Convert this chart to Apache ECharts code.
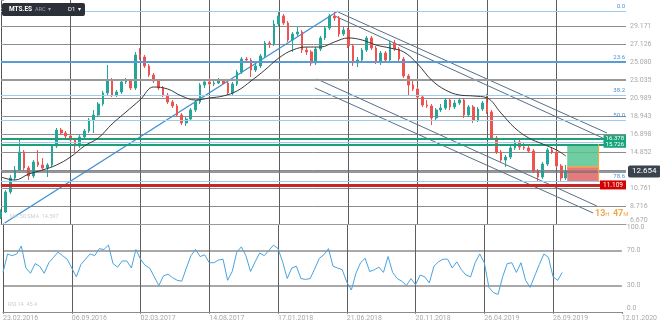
<!DOCTYPE html>
<html><head><meta charset="utf-8">
<script src="https://cdn.jsdelivr.net/npm/echarts@6/dist/echarts.min.js"></script>
<style>html,body{margin:0;padding:0;background:#fff}#c{width:660px;height:324px}</style>
</head><body><div id="c"></div>
<script>
// ---- data ----
const dateLabels = ['23.02.2016','06.09.2016','02.03.2017','14.08.2017','17.01.2018','21.06.2018','20.11.2018','26.04.2019','26.09.2019','12.01.2020'];
const priceTickLabels = ['6.670','8.716','10.761','12.807','14.852','16.898','18.943','20.989','23.035','25.080','27.126','29.171','',''];
const rsiTickLabels = {0:'0.0',30:'30.0',70:'70.0',100:'100.0'};

const openP = [7.47,8.03,10.31,11.90,12.81,14.85,13.03,12.13,13.72,13.38,
13.03,13.38,15.53,17.35,17.01,16.67,16.22,15.53,16.56,17.24,
18.49,19.06,20.31,21.56,23.03,21.33,21.67,22.81,22.92,22.13,
25.88,25.65,24.63,23.60,22.92,22.13,21.33,20.53,20.08,19.06,
18.15,18.60,19.63,20.53,22.47,22.81,22.58,22.69,23.03,22.69,
21.56,22.58,23.94,25.42,25.31,24.17,24.63,25.76,27.24,27.13,
29.40,30.31,29.51,27.58,28.26,28.49,26.44,26.22,24.97,26.56,
27.81,28.94,30.31,30.08,28.26,28.72,26.90,24.97,25.31,26.44,
27.81,26.67,25.08,26.10,25.31,27.24,26.56,25.42,23.49,22.47,
22.01,21.10,20.19,20.08,18.72,19.63,19.85,20.76,19.97,20.42,
20.76,19.06,19.97,18.49,19.74,20.42,19.40,16.44,14.85,13.94,
14.28,15.31,15.99,15.42,15.31,14.97,12.69,12.01,13.49,15.08,
14.85,13.26,11.90];
const closeP = [8.03,10.31,11.90,12.81,14.85,13.03,12.13,13.72,13.38,13.03,
13.38,15.53,17.35,17.01,16.67,16.22,15.53,16.56,17.24,18.49,
19.06,20.31,21.56,23.03,21.33,21.67,22.81,22.92,22.13,25.88,
25.65,24.63,23.60,22.92,22.13,21.33,20.53,20.08,19.06,18.15,
18.60,19.63,20.53,22.47,22.81,22.58,22.69,23.03,22.69,21.56,
22.58,23.94,25.42,25.31,24.17,24.63,25.76,27.24,27.13,29.40,
30.31,29.51,27.58,28.26,28.49,26.44,26.22,24.97,26.56,27.81,
28.94,30.31,30.08,28.26,28.72,26.90,24.97,25.31,26.44,27.81,
26.67,25.08,26.10,25.31,27.24,26.56,25.42,23.49,22.47,22.01,
21.10,20.19,20.08,18.72,19.63,19.85,20.76,19.97,20.42,20.76,
19.06,19.97,18.49,19.74,20.42,19.40,16.44,14.85,13.94,14.28,
15.31,15.99,15.42,15.31,14.97,12.69,12.01,13.49,15.08,14.85,
13.26,11.90,12.654];
const lowP = [7.24,7.92,10.08,11.67,12.69,12.81,11.67,11.90,13.15,12.81,
12.01,13.15,15.31,16.78,16.44,15.87,14.85,15.31,16.33,17.01,
17.01,18.83,20.08,21.33,21.10,21.10,21.44,22.58,21.90,21.90,
25.31,24.40,23.38,22.69,21.90,21.10,20.31,19.85,18.83,17.92,
17.81,18.38,19.40,20.31,22.13,22.35,22.35,22.58,22.47,21.22,
21.33,22.35,23.72,24.97,23.38,23.94,24.40,25.53,26.67,26.90,
29.17,29.29,27.35,26.22,28.04,26.10,25.88,24.63,24.74,26.33,
27.58,28.72,29.74,27.92,28.04,26.67,24.63,24.51,25.08,26.22,
26.44,24.85,24.74,25.08,25.08,26.33,25.19,23.26,21.33,21.79,
20.88,19.97,19.85,17.92,18.49,19.40,19.63,19.63,19.74,20.19,
18.72,18.83,18.15,18.26,19.51,19.17,16.22,14.62,13.72,13.15,
14.06,15.08,15.08,15.08,14.74,12.47,11.56,11.79,13.26,14.62,
13.03,11.56,11.67];
const highP = [8.33,10.53,12.24,13.26,16.22,15.08,13.26,13.94,15.08,14.17,
13.60,15.76,17.58,17.58,17.24,16.90,16.44,16.78,17.47,18.72,
19.63,20.53,21.79,24.74,23.26,21.90,23.03,23.26,23.15,26.22,
26.67,25.88,24.85,23.83,23.03,22.35,21.56,20.76,20.31,19.28,
18.83,19.85,20.76,22.69,23.15,23.26,22.92,23.26,23.15,22.81,
22.81,24.17,25.65,25.65,25.53,24.85,25.99,27.47,27.47,29.85,
30.76,30.54,29.74,28.49,29.06,28.72,26.78,26.44,26.78,28.04,
29.17,30.54,30.76,30.31,29.06,28.94,27.13,25.65,26.67,28.04,
28.04,26.90,26.33,26.33,27.47,27.58,26.78,25.65,23.72,23.03,
22.24,21.33,20.76,20.31,19.85,20.31,20.99,20.99,20.76,20.99,
20.99,20.19,20.19,19.97,20.65,21.44,19.63,16.67,15.08,14.51,
15.53,16.22,16.22,15.87,15.53,15.19,12.92,13.72,15.31,15.42,
15.08,13.49,13.38];

const maIdx = [0,3,6,9,12,15,18,21,24,27,30,33,36,39,42,45,48,51,54,57,60,63,66,69,72,75,78,81,84,87,90,93,96,99,102,105,108,111,114,117,120,122];
const maVal = [12.01,11.67,12.35,12.81,13.38,14.28,15.53,16.44,18.04,19.40,20.76,22.24,22.01,21.22,20.76,20.99,21.22,21.79,22.92,24.17,25.53,26.44,26.78,26.78,27.35,27.81,27.58,27.01,26.67,26.22,24.85,23.03,21.90,21.33,21.22,20.99,19.28,17.58,16.44,15.76,15.08,14.40];

const rsiVal = [45,66,64,66,75,50,44,55,52,44,
56,62,68,64,60,50,40,54,60,66,
64,72,71,76,55,51,58,58,50,71,
60,53,50,40,30,41,43,39,36,35,
50,64,71,63,65,56,56,59,60,36,
46,68,74,64,46,57,67,64,70,76,
72,57,38,50,52,38,37,38,49,61,
65,72,52,50,48,34,25,44,56,61,
46,48,51,45,63,45,38,35,30,38,
31,42,40,33,52,57,60,60,50,57,
48,42,40,56,66,56,28,22,20,40,
55,56,45,56,36,28,41,54,66,62,
40,36,45];

const fibLevels = [30.88, 25.08, 21.33, 18.49, 15.99, 11.56];
const fibLabels = ['0.0', '23.6', '38.2', '50.0', '', '78.6'];
const lastPrice = 12.654;
const greenLevels = [16.378, 15.726];
const redLevel = 11.109;
const riseLine = [[0.8, 6.78], [72.8, 30.88]];
const chanUpper1 = [[72.8, 30.76], [130.9, 17.01]];
const chanUpper2 = [[72.1, 30.31], [130.0, 16.44]];
const chanLower1 = [[68.2, 23.15], [128.7, 8.72]];
const chanLower2 = [[67.8, 22.13], [127.9, 7.92]];
const posX = [122.3, 129.0];
const posTarget = 15.726, posEntry = 13.18, posStop = 11.46;

// ---- chart ----
const chart = echarts.init(document.getElementById('c'), null, {renderer: 'canvas'});
const GRID = '#8c8c8c';
const lblFont = {color: '#a9a9a9', fontSize: 7, fontFamily: 'Roboto'};
const priceSplitColors = priceTickLabels.map((t) => t === '' ? 'rgba(0,0,0,0)' : GRID);
const xSplitColors = dateLabels.map((d, i) => (i === 0 || i === dateLabels.length - 1) ? 'rgba(0,0,0,0)' : '#5e5e5e');
const rsiSplitColors = [];
for (let v = 0; v <= 100; v += 10) rsiSplitColors.push((v === 30 || v === 70) ? GRID : 'rgba(0,0,0,0)');

const candleData = openP.map((o, i) => [i, o, closeP[i], lowP[i], highP[i]]);
const maData = maIdx.map((x, i) => [x, maVal[i]]);
const rsiData = rsiVal.map((v, i) => [i, v]);

const markLines = [];
fibLevels.forEach((v, i) => {
  const main = i === 1;
  markLines.push({yAxis: v, lineStyle: {color: main ? '#5b9bd5' : '#9fcdef', width: main ? 2 : 1, type: 'solid'},
    label: {show: fibLabels[i] !== '', formatter: fibLabels[i], position: 'insideEndTop', distance: [1, 1], color: '#4a90d9', fontSize: 6, fontFamily: 'Roboto'}});
});
markLines.push({yAxis: 23.035, lineStyle: {color: '#999', width: 2, type: 'solid'}, label: {show: false}});
greenLevels.forEach((v) => {
  markLines.push({yAxis: v, lineStyle: {color: '#1e9f78', width: 2, type: 'solid'},
    label: {show: true, formatter: v.toFixed(3), position: 'insideEnd', distance: 0, color: '#fff', backgroundColor: '#17a57a', padding: [1, 2, 0, 2], fontSize: 6, fontFamily: 'Roboto'}});
});
markLines.push({yAxis: redLevel, lineStyle: {color: '#c62828', width: 3, type: 'solid'},
  label: {show: true, formatter: redLevel.toFixed(3), position: 'insideEnd', distance: 0, color: '#fff', backgroundColor: '#d50000', padding: [1, 3, 1, 3], fontSize: 6.5, fontFamily: 'Roboto'}});
markLines.push({yAxis: lastPrice, lineStyle: {color: '#6f757c', width: 1.5, type: 'solid'},
  label: {show: true, formatter: lastPrice.toFixed(3), position: 'end', distance: 2, color: '#fff', backgroundColor: '#3b444e', padding: [2, 4, 2, 4], borderRadius: 2, fontSize: 8, fontFamily: 'Roboto'}});
markLines.push([{coord: [posX[0], posEntry], lineStyle: {color: '#f0a64a', width: 1.5, type: 'solid'}, label: {show: false}}, {coord: [posX[1], posEntry]}]);
markLines.push([{coord: [posX[1], posTarget], lineStyle: {color: '#f0a64a', width: 1.2, type: 'solid'}, label: {show: false}}, {coord: [posX[1], posStop]}]);

function trend(data, color, width) {
  return {type: 'line', xAxisIndex: 0, yAxisIndex: 0, data: data, symbol: 'none', silent: true,
    lineStyle: {color: color, width: width}, z: 3, animation: false};
}

chart.setOption({
  animation: false,
  backgroundColor: '#fff',
  grid: [
    {left: 1, right: 34, top: 0, height: 224},
    {left: 1, right: 34, top: 224, height: 88}
  ],
  xAxis: [
    {type: 'value', gridIndex: 0, min: 0, max: 135, interval: 15,
      axisLine: {show: true, lineStyle: {color: '#9a9a9a', width: 1}}, axisTick: {show: false}, axisLabel: {show: false},
      splitLine: {show: true, lineStyle: {color: xSplitColors, width: 1}}},
    {type: 'value', gridIndex: 1, min: 0, max: 135, interval: 15,
      axisLine: {show: true, lineStyle: {color: '#8c8c8c', width: 1}}, axisTick: {show: true, length: 2, lineStyle: {color: '#8c8c8c'}},
      axisLabel: Object.assign({show: true, align: 'left', margin: 3, showMinLabel: true, showMaxLabel: true,
        formatter: (v, i) => dateLabels[i] || ''}, lblFont),
      splitLine: {show: true, lineStyle: {color: xSplitColors, width: 1}}}
  ],
  yAxis: [
    {type: 'value', gridIndex: 0, position: 'right', min: 6.6705, max: 32.1256, interval: 2.0455, scale: true,
      axisLine: {show: true, lineStyle: {color: '#555', width: 1}},
      axisTick: {show: true, length: 3, lineStyle: {color: '#999'}},
      axisLabel: Object.assign({show: true, margin: 4, verticalAlignMinLabel: 'bottom', formatter: (v, i) => priceTickLabels[i] || ''}, lblFont),
      splitLine: {show: true, lineStyle: {color: priceSplitColors, width: 1}}},
    {type: 'value', gridIndex: 1, position: 'right', min: 0, max: 100, interval: 10,
      axisLine: {show: true, lineStyle: {color: '#555', width: 1}},
      axisTick: {show: false},
      axisLabel: Object.assign({show: true, margin: 5, verticalAlignMinLabel: 'bottom', verticalAlignMaxLabel: 'top',
        formatter: (v) => rsiTickLabels[Math.round(v)] || ''}, lblFont),
      splitLine: {show: true, lineStyle: {color: rsiSplitColors, width: 1.5}}}
  ],
  series: [
    {type: 'candlestick', xAxisIndex: 0, yAxisIndex: 0, data: candleData, encode: {x: 0, y: [1, 2, 3, 4]},
      barWidth: 2.2, z: 4,
      itemStyle: {color: '#26a69a', color0: '#ef5350', borderColor: '#26a69a', borderColor0: '#ef5350', borderWidth: 1},
      markLine: {silent: true, symbol: 'none', animation: false, data: markLines},
      markArea: {silent: true, data: [
        [{coord: [posX[0], posTarget], itemStyle: {color: 'rgba(86,196,144,0.85)'}}, {coord: [posX[1], posEntry]}],
        [{coord: [posX[0], posEntry], itemStyle: {color: 'rgba(226,100,100,0.85)'}}, {coord: [posX[1], posStop]}]
      ]}},
    {type: 'line', xAxisIndex: 0, yAxisIndex: 0, data: maData, symbol: 'none', smooth: 0.4, silent: true,
      lineStyle: {color: '#3a3a3a', width: 1}, z: 5},
    trend(riseLine, '#3d8fd6', 1.3),
    trend(chanUpper1, '#55708c', 1),
    trend(chanUpper2, '#55708c', 1),
    trend(chanLower1, '#55708c', 1),
    trend(chanLower2, '#55708c', 1),
    {type: 'line', xAxisIndex: 1, yAxisIndex: 1, data: rsiData, symbol: 'none', silent: true,
      lineStyle: {color: '#4aa3e0', width: 1}, z: 3}
  ],
  graphic: [
    {type: 'rect', left: 2, top: 3, shape: {width: 83, height: 13, r: 2}, style: {fill: '#2c3038'}, z: 100},
    {type: 'text', left: 9, top: 6, style: {text: 'MTS.ES', fill: '#fff', font: 'bold 6.5px Roboto'}, z: 101},
    {type: 'text', left: 35, top: 6.5, style: {text: 'ARC  \u25BE', fill: '#9aa0a8', font: '5.5px Roboto'}, z: 101},
    {type: 'text', left: 68, top: 6, style: {text: 'D1  \u25BE', fill: '#fff', font: '6px Roboto'}, z: 101},
    {type: 'text', left: 595, top: 208, style: {rich: {a: {fill: '#f3a54a', font: 'bold 9px Roboto'}, b: {fill: '#f3a54a', font: '6px Roboto'}},
      text: '{a|13}{b|H} {a|47}{b|M}'}, z: 101},
    {type: 'text', left: 10, top: 214, style: {text: 'MA 50 SMA  14.597', fill: '#cfcfcf', font: '5.5px Roboto'}, z: 101},
    {type: 'text', left: 8, top: 302, style: {text: 'RSI 14  45.4', fill: '#cfcfcf', font: '5.5px Roboto'}, z: 101}
  ]
});
</script>
</body></html>
